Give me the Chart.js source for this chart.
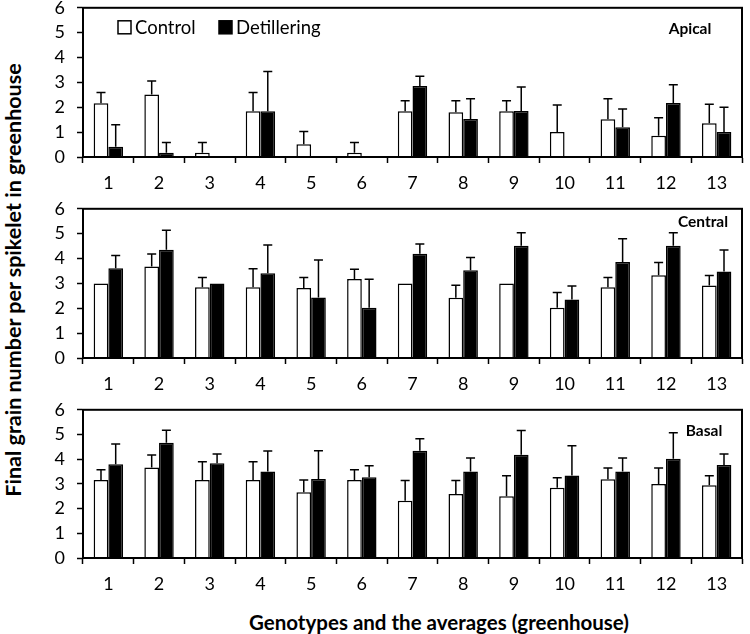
<!DOCTYPE html>
<html>
<head>
<meta charset="utf-8">
<script src="https://cdn.jsdelivr.net/npm/chart.js@4.4.0/dist/chart.umd.min.js"></script>
<style>
  body { margin: 0; background: #fff; width: 750px; height: 634px; position: relative; overflow: hidden; font-family: Lato, sans-serif; }
  canvas { position: absolute; left: 30px; }
  .ytitle { position: absolute; left: 13px; top: 280px; transform: translate(-50%, -50%) rotate(-90deg); white-space: nowrap; font-weight: bold; font-size: 21.5px; }
  .xtitle { position: absolute; left: 439px; top: 622px; transform: translate(-50%, -50%); white-space: nowrap; font-weight: bold; font-size: 20.5px; }
</style>
</head>
<body>
<canvas id="apical" width="720" height="201"></canvas>
<canvas id="central" width="720" height="201"></canvas>
<canvas id="basal" width="720" height="200"></canvas>
<div class="ytitle">Final grain number per spikelet in greenhouse</div>
<div class="xtitle">Genotypes and the averages (greenhouse)</div>
<script>
let categories = ['1', '2', '3', '4', '5', '6', '7', '8', '9', '10', '11', '12', '13'];
let yTicks = [0, 1, 2, 3, 4, 5, 6];

// Apical
let apicalControl = [2.16, 2.51, 0.17, 1.84, 0.51, 0.17, 1.84, 1.80, 1.84, 1.01, 1.52, 0.85, 1.36];
let apicalControlErr = [0.43, 0.55, 0.41, 0.75, 0.52, 0.41, 0.42, 0.46, 0.42, 1.08, 0.82, 0.73, 0.76];
let apicalDet = [0.41, 0.17, 0, 1.84, 0, 0, 2.86, 1.53, 1.85, 0, 1.20, 2.17, 1.01];
let apicalDetErr = [0.89, 0.41, 0, 1.60, 0, 0, 0.39, 0.81, 0.97, 0, 0.73, 0.74, 0.99];

// Central
let centralControl = [3.0, 3.68, 2.85, 2.85, 2.82, 3.18, 3.0, 2.42, 3.0, 2.02, 2.85, 3.33, 2.92];
let centralControlErr = [0, 0.50, 0.39, 0.74, 0.42, 0.39, 0, 0.51, 0, 0.61, 0.39, 0.51, 0.40];
let centralDet = [3.61, 4.35, 3.0, 3.41, 2.43, 2.02, 4.19, 3.53, 4.51, 2.35, 3.86, 4.51, 3.48];
let centralDetErr = [0.51, 0.79, 0, 1.13, 1.51, 1.15, 0.39, 0.51, 0.53, 0.55, 0.94, 0.53, 0.86];

// Basal
let basalControl = [3.16, 3.66, 3.16, 3.16, 2.66, 3.16, 2.32, 2.59, 2.50, 2.84, 3.19, 3.0, 2.95];
let basalControlErr = [0.41, 0.51, 0.74, 0.74, 0.50, 0.41, 0.82, 0.55, 0.83, 0.41, 0.45, 0.64, 0.38];
let basalDet = [3.80, 4.67, 3.84, 3.50, 3.20, 3.27, 4.34, 3.50, 4.18, 3.34, 3.50, 4.02, 3.77];
let basalDetErr = [0.82, 0.50, 0.37, 0.83, 1.14, 0.46, 0.49, 0.55, 0.98, 1.20, 0.55, 1.05, 0.44];

let fontFamily = 'Lato, sans-serif';
let xAxisHeight = 40;

// error bars (upper side only) + frame + panel label + legend
let extrasPlugin = {
  id: 'extras',
  afterDatasetsDraw(chart, args, opts) {
    let ctx = chart.ctx;
    let y = chart.scales.y;
    let area = chart.chartArea;
    ctx.save();
    ctx.strokeStyle = '#000';
    ctx.lineWidth = 1.5;
    chart.data.datasets.forEach((ds, di) => {
      let meta = chart.getDatasetMeta(di);
      meta.data.forEach((bar, i) => {
        let err = ds.errors[i];
        if (!err) return;
        let top = y.getPixelForValue(ds.data[i] + err);
        ctx.beginPath();
        ctx.moveTo(bar.x, bar.y);
        ctx.lineTo(bar.x, top);
        ctx.moveTo(bar.x - 4.5, top);
        ctx.lineTo(bar.x + 4.5, top);
        ctx.stroke();
      });
    });

    // frame
    ctx.lineWidth = 2;
    ctx.strokeRect(area.left, area.top, area.right - area.left, area.bottom - area.top);

    // panel label
    ctx.fillStyle = '#000';
    ctx.font = 'bold 15.5px ' + fontFamily;
    ctx.textAlign = 'center';
    ctx.textBaseline = 'middle';
    ctx.fillText(opts.title, area.left + opts.titleX, area.top + opts.titleY);

    // legend
    if (opts.legend) {
      ctx.font = '18.5px ' + fontFamily;
      ctx.textAlign = 'left';
      let xs = [35, 136];
      chart.data.datasets.forEach((ds, di) => {
        let bx = area.left + xs[di];
        let by = area.top + 13;
        ctx.fillStyle = ds.backgroundColor;
        ctx.fillRect(bx, by, 13, 13);
        ctx.lineWidth = 1.5;
        ctx.strokeRect(bx, by, 13, 13);
        ctx.fillStyle = '#000';
        ctx.fillText(ds.label, bx + 17, by + 7);
      });
    }
    ctx.restore();
  }
};

// plotTop / plotHeight: where the plot frame should sit on the page
function makePanel(id, control, controlErr, det, detErr, extras, plotTop, plotHeight) {
  let canvas = document.getElementById(id);
  let ctx = canvas.getContext('2d');
  let chart = new Chart(ctx, {
    type: 'bar',
    data: {
      labels: categories,
      datasets: [{
        label: 'Control',
        data: control,
        errors: controlErr,
        backgroundColor: '#ffffff',
        borderColor: '#000000',
        borderWidth: 1.5,
        categoryPercentage: 0.58,
        barPercentage: 1
      }, {
        label: 'Detillering',
        data: det,
        errors: detErr,
        backgroundColor: '#000000',
        borderColor: '#000000',
        borderWidth: 1.5,
        categoryPercentage: 0.58,
        barPercentage: 1
      }]
    },
    options: {
      responsive: false,
      maintainAspectRatio: false,
      animation: false,
      layout: { padding: { top: 0, right: 8, left: 0, bottom: 0 } },
      plugins: {
        legend: { display: false },
        tooltip: { enabled: false },
        extras: extras
      },
      scales: {
        x: {
          afterFit: scale => { scale.height = xAxisHeight; },
          grid: { offset: true, drawOnChartArea: false, drawTicks: true, tickLength: 6, tickColor: '#000', tickWidth: 1.5 },
          border: { display: true, color: '#000', width: 2 },
          ticks: { color: '#000', font: { family: fontFamily, size: 18 }, padding: 9, maxRotation: 0, autoSkip: false }
        },
        y: {
          min: 0,
          max: 6,
          afterFit: scale => { scale.width = 53; },
          afterBuildTicks: scale => { scale.ticks = yTicks.map(v => ({ value: v })); },
          grid: { drawOnChartArea: false, drawTicks: true, tickLength: 6, tickColor: '#000', tickWidth: 1.5 },
          border: { display: true, color: '#000', width: 2 },
          ticks: { color: '#000', font: { family: fontFamily, size: 18 }, padding: 12, autoSkip: false }
        }
      }
    },
    plugins: [extrasPlugin]
  });

  // size the canvas so the plot area lands where the reference has it
  let t = chart.chartArea.top;
  chart.resize(720, Math.round(t + plotHeight + xAxisHeight));
  t = chart.chartArea.top;
  canvas.style.top = (plotTop - t) + 'px';
}

makePanel('apical', apicalControl, apicalControlErr, apicalDet, apicalDetErr,
  { title: 'Apical', titleX: 607, titleY: 21, legend: true }, 8, 149);
makePanel('central', centralControl, centralControlErr, centralDet, centralDetErr,
  { title: 'Central', titleX: 620, titleY: 13, legend: false }, 209, 149);
makePanel('basal', basalControl, basalControlErr, basalDet, basalDetErr,
  { title: 'Basal', titleX: 621, titleY: 21, legend: false }, 410, 148);
</script>
</body>
</html>
